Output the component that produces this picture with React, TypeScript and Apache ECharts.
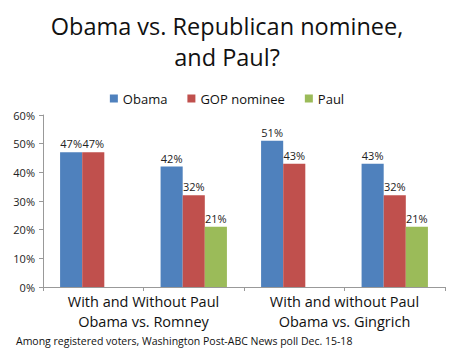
import React, { useEffect, useRef } from "react";
import * as echarts from "echarts";

const categories = ["Romney with", "Romney without", "Gingrich with", "Gingrich without"];
const groupLabels = ["With and Without Paul\nObama vs. Romney", "With and without Paul\nObama vs. Gingrich"];
const obama = [47, 42, 51, 43];
const gop = [47, 32, 43, 32];
const paul: (number | null)[] = [null, 21, null, 21];
const yTicks = [0, 10, 20, 30, 40, 50, 60];

const FONT = "'Open Sans', 'Noto Sans', sans-serif";

export default function App() {
  const ref = useRef<HTMLDivElement>(null);
  useEffect(() => {
    if (!ref.current) return;
    const chart = echarts.init(ref.current, undefined, { renderer: "svg" });
    const label = {
      show: true,
      position: "top" as const,
      formatter: "{c}%",
      fontSize: 11,
      color: "#222",
      fontFamily: FONT,
      distance: 3,
    };
    chart.setOption({
      animation: false,
      backgroundColor: "#fff",
      textStyle: { fontFamily: FONT },
      title: {
        text: "Obama vs. Republican nominee,\nand Paul?",
        left: "center",
        top: 5,
        textStyle: { fontSize: 23.5, fontWeight: "normal", color: "#111", lineHeight: 31, fontFamily: FONT },
      },
      legend: {
        top: 87,
        left: "center",
        itemWidth: 8,
        itemHeight: 8,
        itemGap: 20,
        icon: "rect",
        textStyle: { fontSize: 13, color: "#111", fontFamily: FONT },
        data: ["Obama", "GOP nominee", "Paul"],
      },
      grid: { left: 43, right: 9, top: 115, bottom: 68, containLabel: false },
      xAxis: [
        {
          type: "category",
          data: categories,
          axisLine: { lineStyle: { color: "#999" } },
          axisTick: { show: true, interval: 0, length: 4, inside: false, lineStyle: { color: "#999" } },
          axisLabel: { show: false },
        },
        {
          type: "category",
          data: groupLabels,
          position: "bottom",
          axisLine: { show: false },
          axisTick: { show: false },
          axisLabel: {
            interval: 0,
            hideOverlap: false,
            fontSize: 14.5,
            lineHeight: 20,
            color: "#111",
            margin: 4,
            fontFamily: FONT,
          },
        },
      ],
      yAxis: {
        type: "value",
        min: 0,
        max: 60,
        interval: 10,
        axisLine: { show: true, lineStyle: { color: "#999" } },
        axisTick: { show: true, length: 4, lineStyle: { color: "#999" } },
        splitLine: { show: false },
        axisLabel: {
          formatter: (v: number) => (yTicks.includes(v) ? v + "%" : ""),
          fontSize: 11,
          color: "#222",
          margin: 8,
          fontFamily: FONT,
        },
      },
      series: [
        { name: "Obama", type: "bar", data: obama, itemStyle: { color: "#4F81BD" }, barGap: "0%", barCategoryGap: "34%", label },
        { name: "GOP nominee", type: "bar", data: gop, itemStyle: { color: "#C0504D" }, label },
        { name: "Paul", type: "bar", data: paul, itemStyle: { color: "#9BBB59" }, label },
      ],
      graphic: [
        {
          type: "text",
          left: 16,
          top: 335,
          style: {
            text: "Among registered voters, Washington Post-ABC News poll Dec. 15-18",
            fontSize: 10.5,
            fill: "#111",
            fontFamily: FONT,
          },
        },
      ],
    });
    return () => chart.dispose();
  }, []);
  return <div ref={ref} style={{ position: "absolute", left: 0, top: 0, width: 454, height: 355 }} />;
}
